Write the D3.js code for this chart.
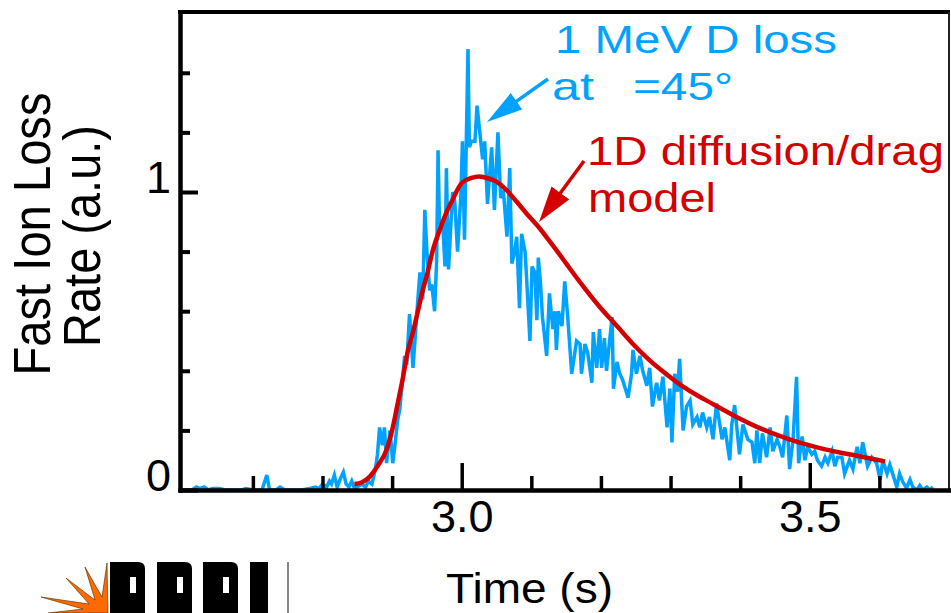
<!DOCTYPE html>
<html>
<head>
<meta charset="utf-8">
<script src="https://cdn.jsdelivr.net/npm/d3@7"></script>
<style>
  html, body { margin: 0; padding: 0; background: #fff; }
  svg { display: block; }
  text { font-family: "Liberation Sans", Arial, Helvetica, sans-serif; }
</style>
</head>
<body>
<svg id="chart" width="951" height="613"></svg>
<script>
// ---- data ----
const lossTime = [2.597,2.612,2.619,2.624,2.630,2.636,2.642,2.652,2.660,2.684,2.690,2.700,2.713,2.720,2.724,2.733,2.739,2.746,2.770,2.782,2.790,2.795,2.800,2.806,2.810,2.813,2.817,2.821,2.826,2.830,2.834,2.838,2.842,2.846,2.850,2.856,2.862,2.866,2.871,2.876,2.879,2.882,2.886,2.889,2.892,2.897,2.901,2.905,2.908,2.911,2.915,2.918,2.921,2.925,2.930,2.934,2.937,2.940,2.944,2.947,2.950,2.954,2.957,2.961,2.964,2.966,2.968,2.973,2.976,2.978,2.981,2.984,2.987,2.990,2.994,2.999,3.001,3.004,3.009,3.011,3.014,3.019,3.022,3.026,3.030,3.033,3.037,3.043,3.047,3.052,3.056,3.060,3.065,3.069,3.072,3.076,3.079,3.083,3.086,3.091,3.093,3.098,3.101,3.105,3.108,3.110,3.113,3.116,3.122,3.126,3.131,3.134,3.136,3.139,3.144,3.148,3.152,3.158,3.165,3.170,3.172,3.177,3.181,3.187,3.189,3.194,3.198,3.201,3.205,3.208,3.216,3.218,3.223,3.227,3.231,3.239,3.244,3.246,3.251,3.256,3.260,3.266,3.270,3.274,3.280,3.284,3.289,3.295,3.299,3.302,3.306,3.310,3.313,3.318,3.323,3.328,3.332,3.338,3.342,3.346,3.352,3.356,3.361,3.366,3.374,3.378,3.385,3.388,3.392,3.399,3.404,3.411,3.417,3.421,3.424,3.428,3.432,3.438,3.443,3.447,3.453,3.457,3.461,3.467,3.471,3.476,3.481,3.484,3.489,3.493,3.497,3.503,3.507,3.511,3.517,3.522,3.526,3.532,3.536,3.540,3.546,3.550,3.557,3.562,3.568,3.572,3.576,3.583,3.589,3.596,3.601,3.605,3.611,3.615,3.619,3.625,3.629,3.634,3.639,3.644,3.648,3.654,3.658,3.662,3.668,3.672,3.677];
const lossRate = [0,0,0.01,0.005,0.01,0,0.005,0.005,0,0,0.005,0,0,0.05,0,0,0.01,0,0,0.005,0.01,0.005,0.02,0.01,0.03,0.02,0.05,0.01,0.04,0.06,0.02,0.01,0.03,0.005,0.01,0.02,0.01,0.03,0.02,0.07,0.12,0.21,0.15,0.21,0.09,0.2,0.09,0.17,0.235,0.27,0.37,0.45,0.42,0.59,0.41,0.54,0.64,0.73,0.64,0.94,0.8,0.67,0.69,0.6,0.77,1.14,0.9,0.88,0.75,1.08,0.74,0.87,1.0,0.97,0.8,1.0,1.17,0.84,1.48,1.15,1.17,1.17,1.29,1.2,1.11,1.17,0.96,1.15,0.94,1.2,0.98,1.0,0.85,1.08,0.76,0.8,0.85,0.61,0.86,0.8,0.72,0.5,0.75,0.73,0.57,0.78,0.7,0.58,0.45,0.66,0.54,0.6,0.47,0.6,0.55,0.7,0.59,0.39,0.5,0.49,0.39,0.49,0.46,0.36,0.53,0.41,0.54,0.41,0.51,0.4,0.58,0.34,0.43,0.39,0.37,0.31,0.39,0.47,0.39,0.45,0.4,0.35,0.41,0.28,0.36,0.3,0.38,0.21,0.34,0.16,0.39,0.33,0.44,0.2,0.28,0.3,0.22,0.245,0.21,0.26,0.21,0.245,0.17,0.29,0.17,0.21,0.1,0.22,0.285,0.12,0.22,0.17,0.16,0.09,0.2,0.09,0.19,0.11,0.21,0.13,0.17,0.145,0.11,0.25,0.07,0.17,0.38,0.09,0.18,0.1,0.145,0.12,0.13,0.1,0.08,0.11,0.09,0.13,0.08,0.11,0.11,0.055,0.1,0.07,0.145,0.09,0.16,0.08,0.11,0.09,0.035,0.1,0.055,0.085,0.055,0.01,0.055,0.025,0.007,0.035,0.01,0,0.015,0,0.01,0,0.01];

const modelTime = [2.846,2.856,2.868,2.879,2.892,2.901,2.908,2.915,2.922,2.930,2.937,2.944,2.951,2.958,2.968,2.976,2.986,3.000,3.014,3.025,3.036,3.050,3.065,3.079,3.093,3.108,3.122,3.136,3.151,3.174,3.198,3.223,3.246,3.270,3.295,3.318,3.338,3.352,3.375,3.399,3.424,3.447,3.471,3.496,3.519,3.543,3.568,3.591,3.608];
const modelRate = [0.02,0.025,0.045,0.08,0.135,0.21,0.29,0.37,0.46,0.53,0.6,0.67,0.73,0.8,0.87,0.92,0.97,1.03,1.047,1.052,1.047,1.035,1.005,0.967,0.928,0.889,0.848,0.805,0.757,0.685,0.615,0.55,0.49,0.435,0.387,0.347,0.318,0.3,0.27,0.24,0.212,0.19,0.17,0.152,0.138,0.126,0.115,0.104,0.096];

const xMajorTicks = [3.0, 3.5];
const xMinorTicks = [2.7, 2.8, 2.9, 3.1, 3.2, 3.3, 3.4, 3.6];
const yMajorTicks = [0, 1];
const yMinorTicks = [0.2, 0.4, 0.6, 0.8, 1.2, 1.4];

const xLabel = "Time (s)";
const yLabelLines = ["Fast Ion Loss", "Rate (a.u.)"];

// ---- layout ----
const blue = "#00a2ff";
const red = "#d40000";
const svg = d3.select("#chart");
const plotLeft = 180, plotRight = 949, plotTop = 12, plotBottom = 490;

const x = d3.scaleLinear().domain([2.5953, 3.7]).range([plotLeft, plotRight]);
const y = d3.scaleLinear().domain([0, 1.604]).range([plotBottom, plotTop]);

// ---- lines ----
const lossData = lossTime.map((t, i) => [t, lossRate[i]]);
const modelData = modelTime.map((t, i) => [t, modelRate[i]]);

svg.append("path")
  .datum(lossData)
  .attr("fill", "none")
  .attr("stroke", blue)
  .attr("stroke-width", 3.5)
  .attr("stroke-linejoin", "miter")
  .attr("d", d3.line().x(d => x(d[0])).y(d => y(d[1])));

svg.append("path")
  .datum(modelData)
  .attr("fill", "none")
  .attr("stroke", red)
  .attr("stroke-width", 4.5)
  .attr("d", d3.line().curve(d3.curveMonotoneX).x(d => x(d[0])).y(d => y(d[1])));

// ---- frame ----
svg.append("line").attr("x1", plotLeft - 2).attr("x2", plotRight + 1).attr("y1", plotTop).attr("y2", plotTop)
  .attr("stroke", "#000").attr("stroke-width", 4);
svg.append("line").attr("x1", plotRight).attr("x2", plotRight).attr("y1", plotTop).attr("y2", plotBottom)
  .attr("stroke", "#222").attr("stroke-width", 2);

// ---- axes ----
const gxMinor = svg.append("g").attr("transform", `translate(0,${plotBottom})`)
  .call(d3.axisBottom(x).tickValues(xMinorTicks).tickSizeInner(-14).tickSizeOuter(0).tickFormat(""));
const gxMajor = svg.append("g").attr("transform", `translate(0,${plotBottom})`)
  .call(d3.axisBottom(x).tickValues(xMajorTicks).tickSizeInner(-27).tickSizeOuter(0).tickPadding(10).tickFormat(d3.format(".1f")));
const gyMinor = svg.append("g").attr("transform", `translate(${plotLeft},0)`)
  .call(d3.axisLeft(y).tickValues(yMinorTicks).tickSizeInner(-10).tickSizeOuter(0).tickFormat(""));
const gyMajor = svg.append("g").attr("transform", `translate(${plotLeft},0)`)
  .call(d3.axisLeft(y).tickValues(yMajorTicks).tickSizeInner(-18).tickSizeOuter(0).tickPadding(9).tickFormat(d3.format("d")));

[gxMinor, gxMajor, gyMinor, gyMajor].forEach(g => {
  g.select(".domain").attr("stroke", "#000").attr("stroke-width", 4).attr("stroke-linecap", "square");
  g.selectAll(".tick line").attr("stroke", "#000");
  g.selectAll("text").attr("font-family", "'Liberation Sans', Arial, sans-serif")
    .attr("font-size", 45).attr("fill", "#000");
});
gxMinor.selectAll(".tick line").attr("stroke-width", 3.5);
gxMajor.selectAll(".tick line").attr("stroke-width", 3.5);
gyMinor.selectAll(".tick line").attr("stroke-width", 4);
gyMajor.selectAll(".tick line").attr("stroke-width", 4);
gyMajor.selectAll("text").attr("dy", "0.02em");

// ---- axis titles ----
svg.append("text").attr("x", 446).attr("y", 603)
  .attr("font-size", 43).attr("textLength", 167).attr("lengthAdjust", "spacingAndGlyphs")
  .text(xLabel);

const yl = [{x: 50, y: 234, len: 283}, {x: 100, y: 236, len: 222}];
yLabelLines.forEach((s, i) => {
  svg.append("text")
    .attr("transform", `translate(${yl[i].x},${yl[i].y}) scale(1.15,1) rotate(-90)`)
    .attr("text-anchor", "middle").attr("font-size", 45)
    .attr("textLength", yl[i].len).attr("lengthAdjust", "spacingAndGlyphs")
    .text(s);
});

// ---- annotations ----
function arrow(x1, y1, x2, y2, color, headLen, headHalf, width) {
  const dx = x2 - x1, dy = y2 - y1, L = Math.hypot(dx, dy);
  const ux = dx / L, uy = dy / L;
  const bx = x2 - ux * headLen, by = y2 - uy * headLen;
  svg.append("line").attr("x1", x1).attr("y1", y1).attr("x2", bx + ux * 4).attr("y2", by + uy * 4)
    .attr("stroke", color).attr("stroke-width", width);
  svg.append("path")
    .attr("d", `M${x2},${y2}L${bx - uy * headHalf},${by + ux * headHalf}L${bx + uy * headHalf},${by - ux * headHalf}Z`)
    .attr("fill", color);
}
arrow(548, 79, 487, 122, blue, 36, 10, 3.5);
arrow(584, 161, 539, 222, red, 36, 11, 3.5);

function label(str, px, py, size, len, color) {
  svg.append("text").attr("x", px).attr("y", py).attr("font-size", size)
    .attr("textLength", len).attr("lengthAdjust", "spacingAndGlyphs")
    .attr("fill", color).text(str);
}
label("1 MeV D loss", 555, 53, 39, 282, blue);
label("at", 552, 100, 39, 42, blue);
label("=45°", 633, 100, 39, 100, blue);
label("1D diffusion/drag", 587, 165, 41, 357, red);
label("model", 588, 212, 41, 128, red);

// ---- PPPL logo (decorative) ----
const logo = svg.append("g");
logo.append("path")
  .attr("d", "M107,563 L102,597 L85,567 L95,600 L66,578 L89,604 L41,597 L83,609 L48,613 L108,613 Z")
  .attr("fill", "#ff6a00").attr("stroke", "#4a2a00").attr("stroke-width", 0.6);
[110, 157, 203].forEach(px => {
  logo.append("path")
    .attr("d", `M${px},562 H${px + 28} Q${px + 35},562 ${px + 35},569 V613 H${px} Z`)
    .attr("fill", "#000");
  logo.append("rect").attr("x", px + 20).attr("y", 577).attr("width", 6).attr("height", 16).attr("fill", "#fff");
});
logo.append("rect").attr("x", 250).attr("y", 562).attr("width", 18).attr("height", 51).attr("fill", "#000");
logo.append("rect").attr("x", 287).attr("y", 562).attr("width", 2).attr("height", 51).attr("fill", "#888");
</script>
</body>
</html>
